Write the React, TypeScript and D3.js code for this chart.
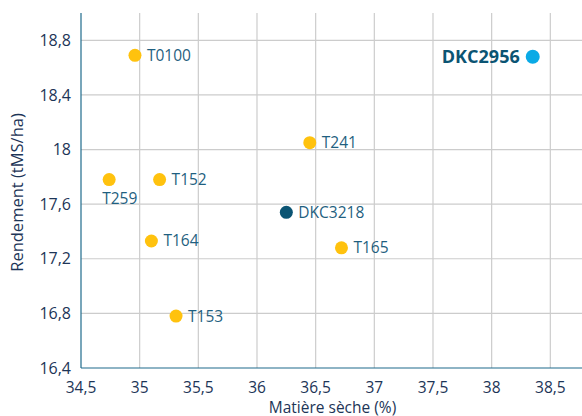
import React from 'react';
import * as d3 from 'd3';

const names = ['T0100', 'T259', 'T152', 'T164', 'T153', 'T241', 'DKC3218', 'T165', 'DKC2956'];
const matiereSeche = [34.96, 34.74, 35.17, 35.1, 35.31, 36.45, 36.25, 36.72, 38.35];
const rendement = [18.69, 17.78, 17.78, 17.33, 16.78, 18.05, 17.54, 17.28, 18.68];
const groups = ['test', 'test', 'test', 'test', 'test', 'test', 'ref', 'test', 'main'];
const xTicks = [34.5, 35, 35.5, 36, 36.5, 37, 37.5, 38, 38.5];
const yTicks = [16.4, 16.8, 17.2, 17.6, 18, 18.4, 18.8];

const W = 582;
const H = 416;
const left = 81;
const top = 13;
const bottom = 368;

const fmt = (v: number) => String(v).replace('.', ',');
const font = '"Open Sans", sans-serif';

export default function App() {
  const x = d3.scaleLinear().domain([34.5, 38.77]).range([left, W]);
  const y = d3.scaleLinear().domain([16.4, 19.0]).range([bottom, top]);
  const fill = d3.scaleOrdinal<string, string>()
    .domain(['test', 'ref', 'main'])
    .range(['#FFC20E', '#0B5473', '#0AAAE6']);

  const pts = names.map((n, i) => ({ n, x: matiereSeche[i], y: rendement[i], g: groups[i] }));

  return (
    <svg width={W} height={H} style={{ position: 'absolute', left: 0, top: 0 }} fontFamily={font}>
      {/* grid */}
      {xTicks.slice(1).map(t => (
        <line key={'gx' + t} x1={x(t)} x2={x(t)} y1={top} y2={bottom} stroke="#cccccc" strokeWidth={1.2} />
      ))}
      {yTicks.slice(1).map(t => (
        <line key={'gy' + t} x1={left} x2={W} y1={y(t)} y2={y(t)} stroke="#cccccc" strokeWidth={1.2} />
      ))}
      {/* axes */}
      <line x1={left} x2={left} y1={top} y2={bottom} stroke="#1F6B8C" strokeWidth={1.2} />
      <line x1={left} x2={W} y1={bottom} y2={bottom} stroke="#1F6B8C" strokeWidth={1.2} />
      {xTicks.map(t => (
        <text key={'tx' + t} x={x(t)} y={bottom + 25} textAnchor="middle" fontSize={15.5} fill="#1D3557">{fmt(t)}</text>
      ))}
      {yTicks.map(t => (
        <text key={'ty' + t} x={left - 10} y={y(t)} dy="0.35em" textAnchor="end" fontSize={16} fill="#1D3557">{fmt(t)}</text>
      ))}
      <text x={(left + W) / 2 + 1} y={412.5} textAnchor="middle" fontSize={15.5} fill="#1D3557">Matière sèche (%)</text>
      <text transform={`translate(23,${(top + bottom) / 2 + 2}) rotate(-90)`} textAnchor="middle" fontSize={16.5} fill="#1D3557">Rendement (tMS/ha)</text>
      {/* points */}
      {pts.map(p => {
        const cx = x(p.x);
        const cy = y(p.y);
        const main = p.g === 'main';
        const below = p.n === 'T259';
        return (
          <g key={p.n}>
            <circle cx={cx} cy={cy} r={main ? 7 : 6.5} fill={fill(p.g)} />
            <text
              x={main ? cx - 13 : below ? cx - 7 : cx + 12}
              y={below ? cy + 24 : cy}
              dy={below ? 0 : '0.35em'}
              textAnchor={main ? 'end' : 'start'}
              fontSize={main ? 18 : 15.5}
              fontWeight={main ? 700 : 400}
              fill={main ? '#0B5473' : '#1F5F80'}
            >{p.n}</text>
          </g>
        );
      })}
    </svg>
  );
}
